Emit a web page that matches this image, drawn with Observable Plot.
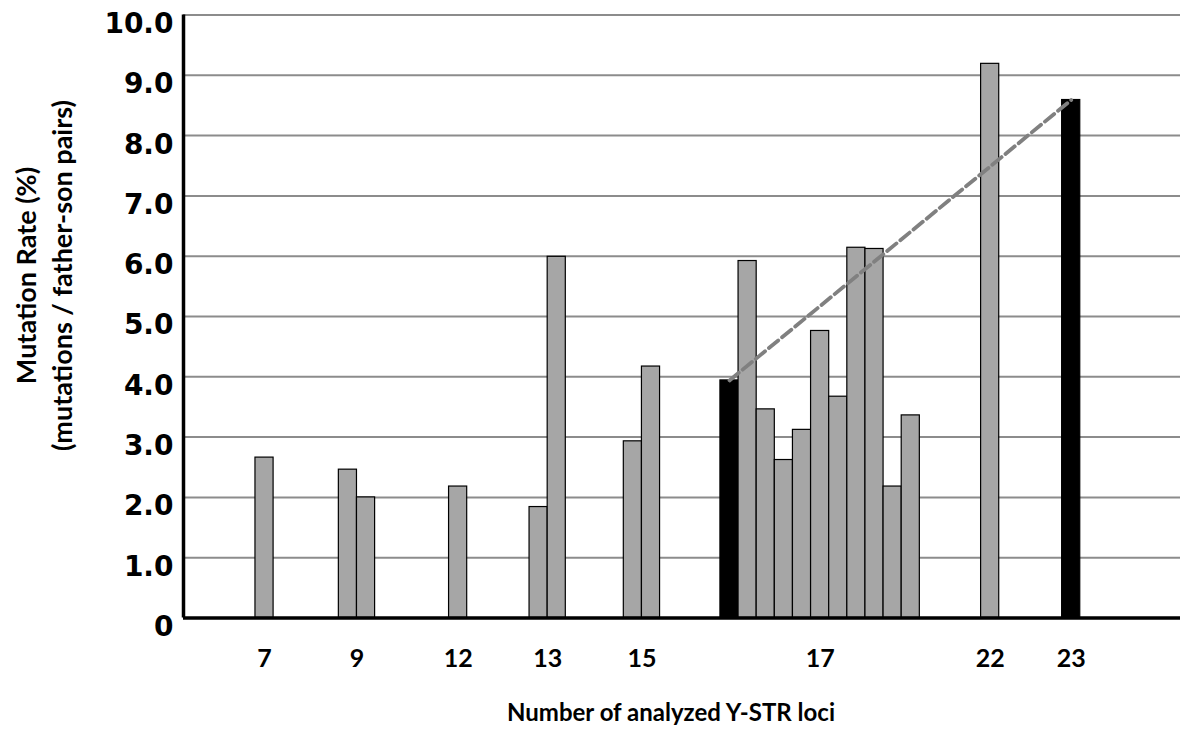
<!DOCTYPE html>
<html><head><meta charset="utf-8">
<script src="https://cdn.jsdelivr.net/npm/d3@7"></script>
<script src="https://cdn.jsdelivr.net/npm/@observablehq/plot@0.6"></script>
<style>body{margin:0;background:#fff} #chart svg{display:block}</style>
</head><body><div id="chart"></div>
<script>
// ---- data ----
const categories = ["7", "9", "12", "13", "15", "17", "22", "23"];
const values7  = [2.66];
const values9  = [2.46, 2.00];
const values12 = [2.18];
const values13 = [1.84, 5.99];
const values15 = [2.93, 4.17];
const values17 = [3.94, 5.92, 3.46, 2.62, 3.12, 4.76, 3.67, 6.14, 6.12, 2.18, 3.36];
const values22 = [9.19];
const values23 = [8.59];
// black (highlighted) bars: [category, index of bar within category]
const highlighted = [["17", 0], ["23", 0]];
const yTicks = [0, 1, 2, 3, 4, 5, 6, 7, 8, 9, 10];
const yTickLabels = ["0", "1.0", "2.0", "3.0", "4.0", "5.0", "6.0", "7.0", "8.0", "9.0", "10.0"];
const xTitle = "Number of analyzed Y-STR loci";
const yTitle = "Mutation Rate (%)\n(mutations / father-son pairs)";

// ---- layout: centre of each category group along x, in bar widths from the y axis ----
const groupCenter = [4.47, 9.57, 15.15, 20.09, 25.29, 35.12, 44.5, 48.97];

const seriesByCategory = [values7, values9, values12, values13, values15, values17, values22, values23];
const rows = [];
categories.forEach((c, i) => {
  const vs = seriesByCategory[i];
  const n = vs.length;
  vs.forEach((v, j) => {
    const x1 = groupCenter[i] - n / 2 + j;
    rows.push({
      category: c, x1, x2: x1 + 1, xm: x1 + 0.5, value: v,
      black: highlighted.some(([hc, hj]) => hc === c && hj === j)
    });
  });
});
const trend = rows.filter(d => d.black);

const calibri = "Lato, 'Open Sans', sans-serif";

const chart = Plot.plot({
  width: 1200,
  height: 729,
  marginLeft: 183,
  marginRight: 20,
  marginTop: 14.5,
  marginBottom: 111.5,
  style: {background: "#fff", overflow: "visible"},
  x: {domain: [0, 55], axis: null},
  y: {domain: [0, 10], axis: null},
  marks: [
    Plot.ruleY(yTicks.filter(d => d > 0), {stroke: "#8c8c8c", strokeWidth: 2}),
    Plot.rect(rows, {
      x1: "x1", x2: "x2", y1: 0, y2: "value",
      fill: d => d.black ? "#000" : "#a6a6a6",
      stroke: "#000", strokeWidth: 1.2
    }),
    Plot.line(trend, {x: "xm", y: "value", stroke: "#808080", strokeWidth: 3.8, strokeDasharray: "12,5"}),
    Plot.ruleX([0], {stroke: "#000", strokeWidth: 3.5}),
    Plot.ruleY([0], {stroke: "#000", strokeWidth: 3.5}),
    Plot.text(yTicks, {
      y: d => d, text: (d, i) => yTickLabels[i], frameAnchor: "left",
      dx: -10, dy: 9, textAnchor: "end", lineAnchor: "middle",
      fontFamily: "'DejaVu Sans', Verdana, sans-serif", fontWeight: "bold", fontSize: 28,
      fill: "#000", ariaLabel: "ytick"
    }),
    Plot.text(categories, {
      x: (d, i) => groupCenter[i], text: d => d, frameAnchor: "bottom",
      dy: 41, lineAnchor: "middle",
      fontFamily: calibri, fontWeight: "bold", fontSize: 25, fill: "#000"
    }),
    Plot.text([xTitle], {
      text: d => d, frameAnchor: "bottom", dx: -11, dy: 95.5, lineAnchor: "middle",
      fontFamily: calibri, fontWeight: "bold", fontSize: 24, fill: "#000"
    }),
    Plot.text([yTitle], {
      text: d => d, frameAnchor: "left", dx: -141, dy: -41, rotate: -90,
      textAnchor: "middle", lineAnchor: "middle", lineHeight: 1.35,
      fontFamily: calibri, fontWeight: "bold", fontSize: 27, fill: "#000"
    })
  ]
});

// horizontally compress the wide y tick labels, as in the original
d3.select(chart).selectAll('g[aria-label="ytick"] text').each(function () {
  const t = this.getAttribute("transform") || "";
  const x = +(this.getAttribute("x") || 0);
  this.setAttribute("transform", `${t} translate(${x},0) scale(0.83,1) translate(${-x},0)`);
});

document.getElementById("chart").appendChild(chart);
</script>
</body></html>
